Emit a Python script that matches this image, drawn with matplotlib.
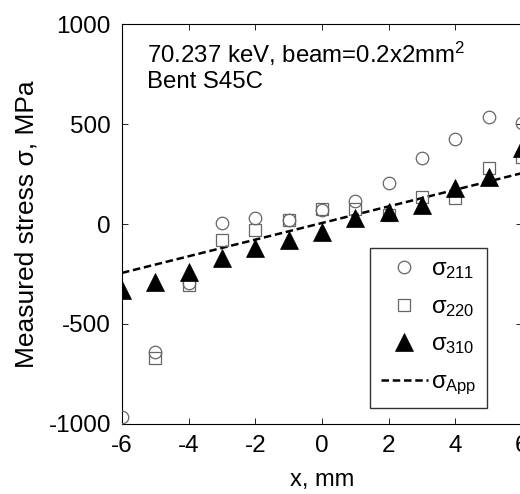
import matplotlib
matplotlib.use("Agg")
import matplotlib.pyplot as plt

plt.rcParams['font.family'] = ['Liberation Sans', 'DejaVu Sans']
plt.rcParams['mathtext.fontset'] = 'custom'
plt.rcParams['mathtext.rm'] = 'Liberation Sans'
plt.rcParams['mathtext.it'] = 'Liberation Sans'
plt.rcParams['mathtext.sf'] = 'Liberation Sans'

# ---- data ----
x211 = [-6, -5, -4, -3, -2, -1, 0, 1, 2, 3, 4, 5, 6]
s211 = [-965, -640, -295, 5, 30, 20, 70, 115, 205, 330, 425, 535, 505]

x220 = [-5, -4, -3, -2, -1, 0, 1, 2, 3, 4, 5, 6]
s220 = [-670, -305, -80, -30, 20, 75, 75, 45, 135, 130, 280, 335]

x310 = [-6, -5, -4, -3, -2, -1, 0, 1, 2, 3, 4, 5, 6]
s310 = [-330, -290, -240, -170, -120, -80, -40, 30, 60, 95, 180, 235, 380]

xapp = [-6, 6]
sapp = [-245, 255]

xticks = [-6, -4, -2, 0, 2, 4, 6]
yticks = [-1000, -500, 0, 500, 1000]

fig = plt.figure(figsize=(5.2, 4.94), dpi=100)
ax = fig.add_axes([122/520, 70.5/494, 400/520, 399/494])

ax.plot(xapp, sapp, ls=(0, (3, 1.5)), color='black', lw=1.8, label=r'$\sigma_{\mathrm{App}}$', zorder=2)
ax.plot(x211, s211, ls='none', marker='o', ms=9, mfc='none', mec='#666666', mew=0.9,
        label=r'$\sigma_{211}$', zorder=3)
ax.plot(x220, s220, ls='none', marker='s', ms=9, mfc='none', mec='#666666', mew=0.9,
        label=r'$\sigma_{220}$', zorder=3)
ax.plot(x310, s310, ls='none', marker='^', ms=12.5, mfc='black', mec='black', mew=0.5,
        label=r'$\sigma_{310}$', zorder=4)

ax.set_xlim(-6, 6)
ax.set_ylim(-1000, 1000)
ax.set_xticks(xticks)
ax.set_xticklabels([str(v) for v in xticks])
ax.set_yticks(yticks)
ax.set_yticklabels([str(v) for v in yticks])
ax.tick_params(direction='in', length=4, width=0.6, labelsize=17.5, pad=8,
               top=True, right=True)
for sp in ax.spines.values():
    sp.set_linewidth(0.8)

ax.set_xlabel('x, mm', fontsize=17, labelpad=9)
ax.set_ylabel('Measured stress σ, MPa', fontsize=19, labelpad=7)

ax.text(0.063, 0.905, '70.237 keV, beam=0.2x2mm$^2$', transform=ax.transAxes,
        fontsize=17.3, va='baseline', ha='left')
ax.text(0.063, 0.84, 'Bent S45C', transform=ax.transAxes,
        fontsize=17.3, va='baseline', ha='left')

h, l = ax.get_legend_handles_labels()
order = [1, 2, 3, 0]
leg = ax.legend([h[i] for i in order], [l[i] for i in order],
                loc='lower left', bbox_to_anchor=(0.62, 0.04), fontsize=17,
                frameon=True, fancybox=False, edgecolor='black',
                handlelength=2.0, handletextpad=0.15, labelspacing=0.62,
                borderpad=0.45, borderaxespad=0)
leg.get_frame().set_linewidth(1.0)

fig.savefig('out.png', dpi=100)
